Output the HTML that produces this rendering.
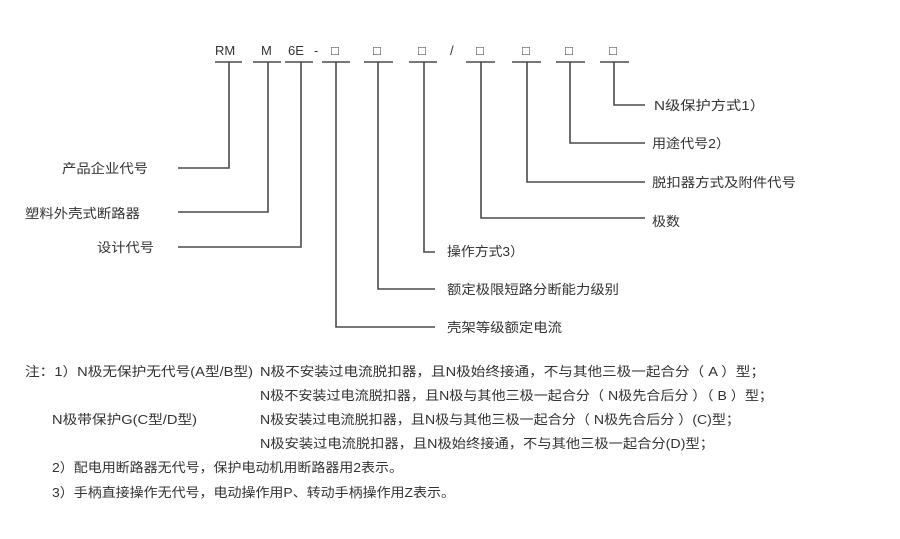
<!DOCTYPE html>
<html><head><meta charset="utf-8"><style>
body{margin:0;background:#fff;width:900px;height:539px;overflow:hidden;font-family:"Liberation Sans","Noto Sans CJK SC",sans-serif;color:#333}
svg{position:absolute;left:0;top:0}
svg text{font-family:"Liberation Sans","Noto Sans CJK SC",sans-serif;font-size:13px;fill:#333}
</style></head><body>
<svg width="900" height="539" viewBox="0 0 900 539">
<g fill="none" stroke="#4a4a4a" stroke-width="1.6">
<path d="M215 62H242 M253 62H281 M285 62H313 M322 62H350 M364 62H393 M409 62H437 M466 62H495 M512 62H541 M556 62H585 M600 62H629"/>
<path d="M229 62V168H178"/>
<path d="M268 62V212H178"/>
<path d="M301 62V247H178"/>
<path d="M336 62V327H435"/>
<path d="M378 62V289H435"/>
<path d="M424 62V252H435"/>
<path d="M481 62V218H645"/>
<path d="M527 62V182H645"/>
<path d="M570 62V143H645"/>
<path d="M614 62V105H645"/>
</g>
<g font-size="13">
<text x="215" y="55">RM</text>
<text x="261" y="55">M</text>
<text x="288" y="55">6E</text>
<text x="314" y="55">-</text>
<text x="331" y="55" font-size="10">□</text>
<text x="373" y="55" font-size="10">□</text>
<text x="418" y="55" font-size="10">□</text>
<text x="450" y="55">/</text>
<text x="476" y="55" font-size="10">□</text>
<text x="522" y="55" font-size="10">□</text>
<text x="565" y="55" font-size="10">□</text>
<text x="609" y="55" font-size="10">□</text>
<text x="62" y="173" textLength="86" lengthAdjust="spacingAndGlyphs">产品企业代号</text>
<text x="25" y="218" textLength="115" lengthAdjust="spacingAndGlyphs">塑料外壳式断路器</text>
<text x="97" y="252" textLength="57" lengthAdjust="spacingAndGlyphs">设计代号</text>
<text x="447" y="256" textLength="77" lengthAdjust="spacingAndGlyphs">操作方式3）</text>
<text x="447" y="294" textLength="172" lengthAdjust="spacingAndGlyphs">额定极限短路分断能力级别</text>
<text x="447" y="332" textLength="115" lengthAdjust="spacingAndGlyphs">壳架等级额定电流</text>
<text x="654" y="110" textLength="111" lengthAdjust="spacingAndGlyphs">N级保护方式1）</text>
<text x="652" y="148" textLength="78" lengthAdjust="spacingAndGlyphs">用途代号2）</text>
<text x="652" y="187" textLength="144" lengthAdjust="spacingAndGlyphs">脱扣器方式及附件代号</text>
<text x="652" y="226" textLength="28" lengthAdjust="spacingAndGlyphs">极数</text>
<text x="25" y="376" textLength="228" lengthAdjust="spacingAndGlyphs">注：1）N极无保护无代号(A型/B型)</text>
<text x="260" y="376" textLength="505" lengthAdjust="spacingAndGlyphs">N极不安装过电流脱扣器，且N极始终接通，不与其他三极一起合分（ A ）型；</text>
<text x="260" y="400" textLength="513" lengthAdjust="spacingAndGlyphs">N极不安装过电流脱扣器，且N极与其他三极一起合分（ N极先合后分 ）（ B ）型；</text>
<text x="52" y="424" textLength="145" lengthAdjust="spacingAndGlyphs">N极带保护G(C型/D型)</text>
<text x="260" y="424" textLength="480" lengthAdjust="spacingAndGlyphs">N极安装过电流脱扣器，且N极与其他三极一起合分（ N极先合后分 ）(C)型；</text>
<text x="260" y="448" textLength="454" lengthAdjust="spacingAndGlyphs">N极安装过电流脱扣器，且N极始终接通，不与其他三极一起合分(D)型；</text>
<text x="52" y="472" textLength="351" lengthAdjust="spacingAndGlyphs">2）配电用断路器无代号，保护电动机用断路器用2表示。</text>
<text x="52" y="497" textLength="403" lengthAdjust="spacingAndGlyphs">3）手柄直接操作无代号，电动操作用P、转动手柄操作用Z表示。</text>
</g>
</svg>
</body></html>
